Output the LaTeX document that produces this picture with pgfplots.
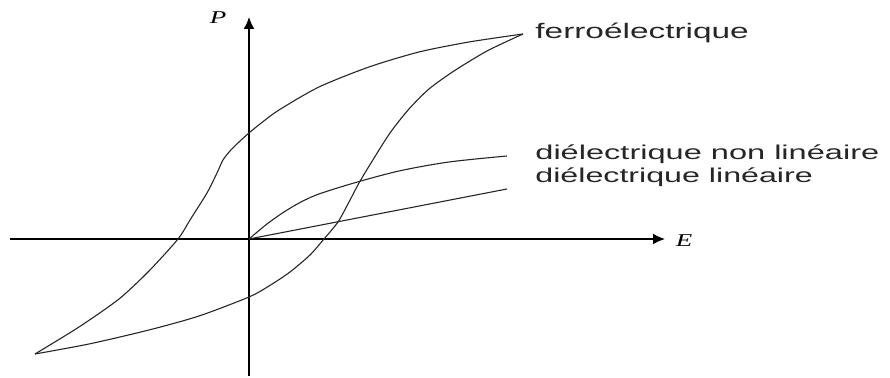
\documentclass[border=0pt]{standalone}
\usepackage{fontspec}
\setmainfont{Liberation Sans}
\newfontfamily\seriffont{Liberation Serif}
\usepackage{pgfplots}
\pgfplotsset{compat=1.18}
\usetikzlibrary{arrows.meta}
\begin{document}
\begin{tikzpicture}
\begin{axis}[
  x=0.5pt, y=0.5pt,
  xmin=-249, xmax=641, ymin=-139, ymax=239,
  hide axis, clip=false,
]
% invisible frame fixing the picture's extent
\addplot[draw=none] coordinates {(-249,-139) (641,239)};
% axes
\addplot[black, line width=0.8pt, -{Latex[length=6pt,width=5.5pt]}] coordinates {(-239,0) (416,0)};
\addplot[black, line width=0.8pt, -{Latex[length=6pt,width=5.5pt]}] coordinates {(0,-137) (0,222)};
% ferroelectric loop: upper branch
\addplot[black!85, line width=0.55pt, smooth, tension=0.45] coordinates {
(-214,-115) (-170,-88) (-130,-60) (-100,-32) (-71,0) (-59,19) (-42,46) (-32,66)
(-26,79) (-19,88) (-10,97) (0,106) (11,115) (30,129) (70,152) (120,172) (170,187)
(220,197) (274,205)};
% lower branch
\addplot[black!85, line width=0.55pt, smooth, tension=0.45] coordinates {
(-214,-115) (-160,-105) (-100,-91) (-50,-77) (0,-58) (20,-47) (41,-33) (61,-16)
(75,0) (89,17) (100,37) (110,56) (122,76) (141,106) (160,130) (180,150)
(205,168) (238,188) (274,205)};
% nonlinear dielectric
\addplot[black!85, line width=0.55pt, smooth, tension=0.5] coordinates {
(0,0) (18,15) (35,27) (52,37) (70,45) (105,56) (150,68) (200,77) (258,83)};
% linear dielectric
\addplot[black!85, line width=0.55pt] coordinates {(0,0) (258,50)};
% labels
\node[anchor=base west, inner sep=0pt, text=black!85] at (axis cs:286,200)
  {\scalebox{1.59}[1]{\fontsize{10.5}{12}\selectfont ferroélectrique}};
\node[anchor=base west, inner sep=0pt, text=black!85] at (axis cs:286,79)
  {\scalebox{1.628}[1]{\fontsize{10}{12}\selectfont diélectrique non linéaire}};
\node[anchor=base west, inner sep=0pt, text=black!85] at (axis cs:286,56)
  {\scalebox{1.61}[1]{\fontsize{10}{12}\selectfont diélectrique linéaire}};
\node[inner sep=0pt] at (axis cs:-31,221)
  {\scalebox{1.5}[1]{\fontsize{9}{10}\selectfont\seriffont\itshape P}};
\node[inner sep=0pt] at (axis cs:435,-2)
  {\scalebox{1.5}[1]{\fontsize{9}{10}\selectfont\seriffont\itshape E}};
\end{axis}
\end{tikzpicture}
\end{document}
